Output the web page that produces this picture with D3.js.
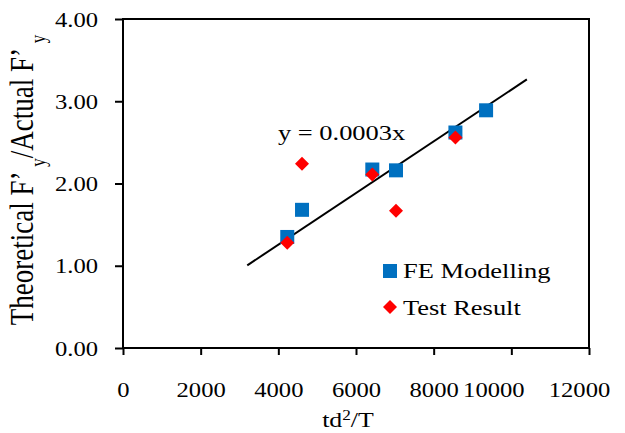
<!DOCTYPE html>
<html>
<head>
<meta charset="utf-8">
<script src="https://cdn.jsdelivr.net/npm/d3@7"></script>
<style>
  body { margin: 0; background: #fff; }
  svg { display: block; }
  svg text { font-family: "Liberation Serif", "Times New Roman", serif; }
</style>
</head>
<body>
<svg id="chart" width="625" height="433"></svg>
<script>
// values
const feX = [4230, 4610, 6420, 7030, 8560, 9350];
const feY = [1.35, 1.68, 2.17, 2.16, 2.62, 2.89];
const testX = [4230, 4610, 6420, 7030, 8560];
const testY = [1.28, 2.24, 2.11, 1.67, 2.56];
const trendX = [3200, 10400];
const trendSlope = 0.000314;
const xTicks = [0, 2000, 4000, 6000, 8000, 10000, 12000];
const yTicks = [0, 1, 2, 3, 4];

const serif = '"Liberation Serif", "Times New Roman", serif';
const stretch = 1.23;
const svg = d3.select("#chart");
const plotLeft = 123, plotRight = 589, plotTop = 19, plotBottom = 348;
// the wide labels at the right end sit left of their ticks in the original
const xLabelShift = { 10000: -18, 12000: -10 };

const x = d3.scaleLinear().domain([0, 12000]).range([plotLeft, plotRight]);
const y = d3.scaleLinear().domain([0, 4]).range([plotBottom, plotTop]);

// x axis
const gx = svg.append("g")
  .attr("transform", `translate(0,${plotBottom})`)
  .call(d3.axisBottom(x).tickValues(xTicks).tickFormat(d3.format("d")).tickSize(7).tickSizeOuter(0))
  .attr("font-family", serif);
gx.select(".domain").remove();
gx.selectAll(".tick line").attr("stroke", "#000").attr("stroke-width", 2);
gx.selectAll(".tick text")
  .attr("y", null).attr("dy", null)
  .attr("transform", (d) => `translate(${xLabelShift[d] || 0},${397 - plotBottom}) scale(${stretch},1)`)
  .attr("font-size", 20).attr("fill", "#000");

// y axis
const gy = svg.append("g")
  .attr("transform", `translate(${plotLeft},0)`)
  .call(d3.axisLeft(y).tickValues(yTicks).tickFormat(d3.format(".2f")).tickSize(8).tickSizeOuter(0))
  .attr("font-family", serif);
gy.select(".domain").remove();
gy.selectAll(".tick line").attr("stroke", "#000").attr("stroke-width", 2);
gy.selectAll(".tick text")
  .attr("x", null).attr("dy", null)
  .attr("transform", `translate(${98 - plotLeft},7) scale(${stretch},1)`)
  .attr("font-size", 20).attr("fill", "#000");

// plot frame
svg.append("rect")
  .attr("x", plotLeft).attr("y", plotTop)
  .attr("width", plotRight - plotLeft).attr("height", plotBottom - plotTop)
  .attr("fill", "none").attr("stroke", "#000").attr("stroke-width", 2);

// trend line
svg.append("line")
  .attr("x1", x(trendX[0])).attr("y1", y(trendX[0] * trendSlope))
  .attr("x2", x(trendX[1])).attr("y2", y(trendX[1] * trendSlope))
  .attr("stroke", "#000").attr("stroke-width", 2);

// FE squares
svg.append("g").selectAll("rect")
  .data(feX.map((d, i) => [d, feY[i]]))
  .join("rect")
  .attr("x", (d) => x(d[0]) - 7).attr("y", (d) => y(d[1]) - 7)
  .attr("width", 14).attr("height", 14)
  .attr("fill", "#0070C0");

// test diamonds
const diamond = d3.symbol().type(d3.symbolSquare).size(98);
svg.append("g").selectAll("path")
  .data(testX.map((d, i) => [d, testY[i]]))
  .join("path")
  .attr("d", diamond)
  .attr("transform", (d) => `translate(${x(d[0])},${y(d[1])}) rotate(45)`)
  .attr("fill", "#FF0000");

function stretchedText(px, py, str, size) {
  return svg.append("text")
    .attr("transform", `translate(${px},${py}) scale(${stretch},1)`)
    .attr("font-family", serif)
    .attr("font-size", size).attr("fill", "#000").text(str);
}

stretchedText(278, 140, "y = 0.0003x", 21.5);

// legend
svg.append("rect").attr("x", 383).attr("y", 264).attr("width", 14).attr("height", 14).attr("fill", "#0070C0");
stretchedText(403, 278, "FE Modelling", 21.5);
svg.append("path").attr("d", diamond).attr("transform", "translate(390,307) rotate(45)").attr("fill", "#FF0000");
stretchedText(403, 315, "Test Result", 21.5);

// x title
const xt = svg.append("text")
  .attr("transform", `translate(348,427) scale(${stretch},1)`)
  .attr("font-family", serif)
  .attr("text-anchor", "middle").attr("font-size", 21).attr("fill", "#000");
xt.append("tspan").text("td");
xt.append("tspan").attr("baseline-shift", "super").attr("font-size", 14).text("2");
xt.append("tspan").text("/T");

// y title
const yt = svg.append("text")
  .attr("transform", `translate(33,180) rotate(-90) scale(1,${stretch})`)
  .attr("font-family", serif)
  .attr("text-anchor", "middle").attr("font-size", 27).attr("fill", "#000");
yt.append("tspan").text("Theoretical F\u2019 ");
yt.append("tspan").attr("baseline-shift", "sub").attr("font-size", 17).text("y");
yt.append("tspan").text("/Actual F\u2019 ");
yt.append("tspan").attr("baseline-shift", "sub").attr("font-size", 17).text("y");
</script>
</body>
</html>
